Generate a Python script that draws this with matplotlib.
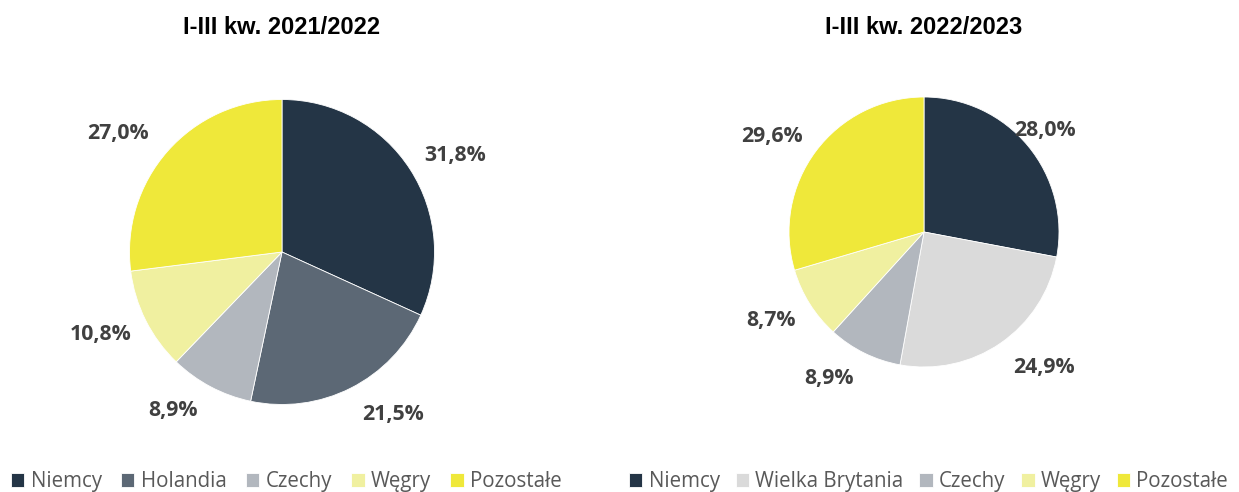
import numpy as np
import matplotlib.pyplot as plt

# data
titles = ['I-III kw. 2021/2022', 'I-III kw. 2022/2023']
countries_1 = ['Niemcy', 'Holandia', 'Czechy', 'Węgry', 'Pozostałe']
shares_1 = [31.8, 21.5, 8.9, 10.8, 27.0]
countries_2 = ['Niemcy', 'Wielka Brytania', 'Czechy', 'Węgry', 'Pozostałe']
shares_2 = [28.0, 24.9, 8.9, 8.7, 29.6]

colors_1 = ['#243546', '#5c6875', '#b2b7be', '#f0f0a0', '#efe83a']
colors_2 = ['#243546', '#dadada', '#b2b7be', '#f0f0a0', '#efe83a']

# label placement (angle in degrees, distance in pie radii), "best fit" style
label_pos_1 = [(29, 1.30), (-55.7, 1.29), (-124.4, 1.26), (-155.5, 1.31), (144.2, 1.33)]
label_pos_2 = [(40.1, 1.17), (-48.6, 1.34), (-123, 1.29), (-150, 1.31), (147.7, 1.33)]

W, H = 1239, 492
fig = plt.figure(figsize=(W / 100, H / 100), dpi=100)


def pct_fmt(v):
    return f'{v:.1f}%'.replace('.', ',')


def draw_pie(cx, cy, r, values, colors, title, label_pos, lim=1.4):
    side = 2 * lim * r
    ax = fig.add_axes([(cx - side / 2) / W, (H - cy - side / 2) / H, side / W, side / H])
    wedges, texts = ax.pie(values, colors=colors, startangle=90, counterclock=False,
                           normalize=True, wedgeprops=dict(edgecolor='white', linewidth=0.6))
    for v, (a, d) in zip(values, label_pos):
        ang = np.deg2rad(a)
        ax.text(d * np.cos(ang), d * np.sin(ang), pct_fmt(v), ha='center', va='center',
                fontsize=15.3, fontweight='bold', color='#404040', family='Open Sans')
    ax.set_xlim(-lim, lim)
    ax.set_ylim(-lim, lim)
    ax.set_aspect('equal')
    ax.axis('off')
    fig.text(cx / W, 1 - 28 / H, title, ha='center', va='center', fontsize=17,
             fontweight='bold', family='Liberation Sans')
    return wedges


w1 = draw_pie(282, 252, 152.5, shares_1, colors_1, titles[0], label_pos_1)
w2 = draw_pie(924, 232, 135, shares_2, colors_2, titles[1], label_pos_2)

leg_kw = dict(ncol=5, frameon=False, handlelength=0.65, handleheight=0.65, handletextpad=0.3,
              borderaxespad=0, borderpad=0, labelcolor='#595959',
              prop={'family': 'Open Sans', 'size': 14.8})
fig.legend(w1, countries_1, loc='lower left', bbox_to_anchor=(11 / W, 0),
           columnspacing=0.95, **leg_kw)
fig.legend(w2, countries_2, loc='lower left', bbox_to_anchor=(629 / W, 0),
           columnspacing=0.78, **leg_kw)

fig.savefig('out.png', dpi=100)
